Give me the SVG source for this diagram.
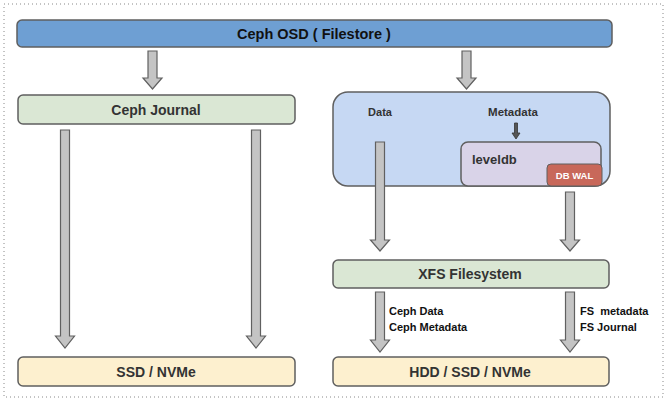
<svg xmlns="http://www.w3.org/2000/svg" width="667" height="403" viewBox="0 0 667 403">
<style>
.box{stroke:#5f5f5f;stroke-width:1.5}
.t{font-family:"Liberation Sans",Arial,sans-serif;font-weight:bold;fill:#333}
.w{fill:#fff}
.k{fill:#111}
.arr{fill:#c4c4c4;stroke:#606060;stroke-width:1.2}
</style>
<rect x="4" y="4" width="659" height="393" fill="#fff" stroke="#888" stroke-width="1" stroke-dasharray="1,3"/>
<g id="osd"><rect class="box" x="17" y="20" width="595" height="27" rx="5" fill="#6e9fd3"/><text class="t k" x="314" y="38.5" font-size="14.5" text-anchor="middle">Ceph OSD ( Filestore )</text></g>
<g id="journal"><rect class="box" x="18" y="95" width="277" height="29" rx="5" fill="#dae7d4"/><text class="t" x="156" y="114.5" font-size="14" text-anchor="middle">Ceph Journal</text></g>
<g id="ssd"><rect class="box" x="18" y="357" width="277" height="29" rx="5" fill="#fdf0cf"/><text class="t" x="156" y="376.5" font-size="14" text-anchor="middle">SSD / NVMe</text></g>
<g id="fs"><rect class="box" x="333" y="92" width="277" height="94" rx="15" fill="#c6d8f3"/>
<text class="t" x="380" y="116" font-size="11" text-anchor="middle">Data</text>
<text class="t" x="513" y="116" font-size="11.5" text-anchor="middle">Metadata</text></g>
<g id="leveldb"><rect class="box" x="461" y="142" width="140" height="44" rx="7" fill="#d9d3e8"/><text class="t" x="472" y="164" font-size="13">leveldb</text></g>
<g id="dbwal"><rect x="547" y="164" width="55" height="22" rx="4" fill="#c8685a" stroke="#5f5f5f" stroke-width="1"/><text class="t w" x="574.5" y="178.5" font-size="9.5" text-anchor="middle">DB WAL</text></g>
<g id="xfs"><rect class="box" x="333" y="260" width="276" height="28" rx="5" fill="#dae7d4"/><text class="t" x="470" y="279" font-size="14" text-anchor="middle">XFS Filesystem</text></g>
<g id="hdd"><rect class="box" x="333" y="357" width="276" height="29" rx="5" fill="#fdf0cf"/><text class="t" x="470" y="376.5" font-size="14" text-anchor="middle">HDD / SSD / NVMe</text></g>
<g id="connectors">
<path class="arr" d="M148,51 H157 V78 H162 L152.5,89 143,78 H148 Z"/>
<path class="arr" d="M462,51 H471 V78 H476 L466.5,89 457,78 H462 Z"/>
<path class="arr" d="M60.5,130 H69.5 V336 H74.5 L65,348 55.5,336 H60.5 Z"/>
<path class="arr" d="M251.5,130 H260.5 V336 H265.5 L256,348 246.5,336 H251.5 Z"/>
<path class="arr" d="M375.5,142 H384.5 V240 H389.5 L380,251 370.5,240 H375.5 Z"/>
<path class="arr" d="M565.5,192 H574.5 V240 H579.5 L570,251 560.5,240 H565.5 Z"/>
<path class="arr" d="M375.5,292 H384.5 V340 H389.5 L380,352 370.5,340 H375.5 Z"/>
<path class="arr" d="M565.5,292 H574.5 V340 H579.5 L570,352 560.5,340 H565.5 Z"/>
<path d="M514.5,123 H517.5 V133 H520 L516,139 512,133 H514.5 Z" fill="#555" stroke="#333" stroke-width="0.8"/>
<text class="t k" x="389" y="315" font-size="11">Ceph Data</text>
<text class="t k" x="389" y="331" font-size="11">Ceph Metadata</text>
<text class="t k" x="580" y="315" font-size="11" xml:space="preserve">FS  metadata</text>
<text class="t k" x="580" y="331" font-size="11">FS Journal</text>
</g>
</svg>
